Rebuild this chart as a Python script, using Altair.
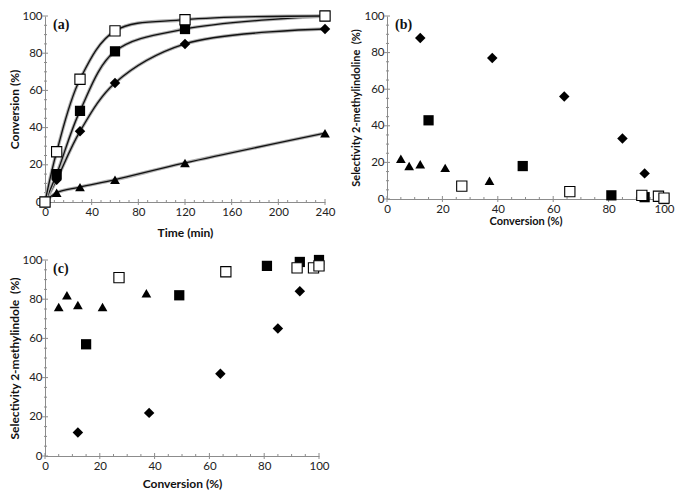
import altair as alt
import pandas as pd

# ---------------- data ----------------
time_min = [0, 10, 30, 60, 120, 240]
conv_open = [0, 27, 66, 92, 98, 100]
conv_filled = [0, 15, 49, 81, 93, 100]
conv_diamond = [0, 12, 38, 64, 85, 93]
conv_triangle = [0, 5, 8, 12, 21, 37]

# selectivity 2-methylindoline (panel b), at conversions of t = 10..240 min
sel_b_open = [7, 4, 2, 1.5, 0.5]
sel_b_filled = [43, 18, 2, 1, 0]
sel_b_diamond = [88, 77, 56, 33, 14]
sel_b_triangle = [22, 18, 19, 17, 10]

# selectivity 2-methylindole (panel c)
sel_c_open = [91, 94, 96, 96, 97]
sel_c_filled = [57, 82, 97, 99, 100]
sel_c_diamond = [12, 22, 42, 65, 84]
sel_c_triangle = [76, 82, 77, 76, 83]

time_major = [0, 40, 80, 120, 160, 200, 240]
time_minor = [v for v in range(0, 241, 8) if v % 40]
pct_major = [0, 20, 40, 60, 80, 100]
pct_minor = [v for v in range(0, 101, 5) if v % 20]

FONT = "Lato"
AXIS_COLOR = "#8c8c8c"

STYLES = {
    "triangle": dict(shape="triangle-up", filled=True, color="black", size=95),
    "diamond": dict(shape="diamond", filled=True, color="black", size=110),
    "filled": dict(shape="square", filled=True, color="black", size=105),
    "open": dict(shape="square", filled=True, fill="white", stroke="black",
                 strokeWidth=1.1, size=105),
}


def axis(title, values, title_padding, title_size, label_padding):
    return alt.Axis(
        title=title, values=values, ticks=False, grid=False,
        domainColor=AXIS_COLOR, domainWidth=1, labelOverlap=False,
        labelFlush=False,
        labelFont=FONT, labelFontSize=11.5, labelColor="#222",
        labelPadding=label_padding, titleFont=FONT, titleFontSize=title_size,
        titleFontWeight="bold", titleColor="#111", titlePadding=title_padding,
    )


def panel(label, series, xdom, xtitle, ytitle, xmaj, xmin, ymaj, ymin,
          w, h, lines=False, order=("triangle", "diamond", "filled", "open"),
          xtp=4, ytp=0, tsize=12):
    xs = alt.Scale(domain=xdom, nice=False)
    ys = alt.Scale(domain=[0, 100], nice=False)
    xax = axis(xtitle, xmaj, xtp, tsize, 4)
    yax = axis(ytitle, ymaj, ytp, tsize, 3)
    layers = []
    # ticks (major crossing the axis, minor short)
    layers.append(alt.Chart(pd.DataFrame({"v": xmaj})).mark_rule(
        color=AXIS_COLOR, strokeWidth=1).encode(
        x=alt.X("v:Q", scale=xs, axis=xax), y=alt.value(h - 3), y2=alt.value(h + 3)))
    layers.append(alt.Chart(pd.DataFrame({"v": xmin})).mark_rule(
        color=AXIS_COLOR, strokeWidth=1).encode(
        x=alt.X("v:Q", scale=xs, axis=xax), y=alt.value(h - 2), y2=alt.value(h + 1)))
    layers.append(alt.Chart(pd.DataFrame({"v": ymaj})).mark_rule(
        color=AXIS_COLOR, strokeWidth=1).encode(
        y=alt.Y("v:Q", scale=ys, axis=yax), x=alt.value(-3), x2=alt.value(3)))
    layers.append(alt.Chart(pd.DataFrame({"v": ymin})).mark_rule(
        color=AXIS_COLOR, strokeWidth=1).encode(
        y=alt.Y("v:Q", scale=ys, axis=yax), x=alt.value(-1), x2=alt.value(2)))
    if lines:
        for name in order:
            df = series[name]
            base = alt.Chart(df).encode(
                x=alt.X("x:Q", scale=xs, axis=xax),
                y=alt.Y("y:Q", scale=ys, axis=yax))
            layers.append(base.mark_line(color="#b0b0b0", strokeWidth=3.4,
                                         interpolate="catmull-rom"))
            layers.append(base.mark_line(color="#111", strokeWidth=1.3,
                                         interpolate="catmull-rom"))
    for name in order:
        df = series[name]
        layers.append(alt.Chart(df).mark_point(opacity=1, **STYLES[name]).encode(
            x=alt.X("x:Q", scale=xs, axis=xax), y=alt.Y("y:Q", scale=ys, axis=yax)))
    layers.append(alt.Chart(pd.DataFrame({"t": [label]})).mark_text(
        font="Liberation Serif", fontWeight="bold", fontSize=14, align="left",
        baseline="middle", color="#111").encode(
        text="t:N", x=alt.value(8), y=alt.value(9)))
    return alt.layer(*layers).properties(width=w, height=h)


def frame(xv, yv):
    return pd.DataFrame({"x": xv, "y": yv})


series_a = {
    "triangle": frame(time_min, conv_triangle),
    "diamond": frame(time_min, conv_diamond),
    "filled": frame(time_min, conv_filled),
    "open": frame(time_min, conv_open),
}
series_b = {
    "triangle": frame(conv_triangle[1:], sel_b_triangle),
    "diamond": frame(conv_diamond[1:], sel_b_diamond),
    "filled": frame(conv_filled[1:], sel_b_filled),
    "open": frame(conv_open[1:], sel_b_open),
}
series_c = {
    "triangle": frame(conv_triangle[1:], sel_c_triangle),
    "diamond": frame(conv_diamond[1:], sel_c_diamond),
    "filled": frame(conv_filled[1:], sel_c_filled),
    "open": frame(conv_open[1:], sel_c_open),
}

pa = panel("(a)", series_a, [0, 240], "Time (min)", "Conversion (%)",
           time_major, time_minor, pct_major, pct_minor, 280, 186, lines=True,
           xtp=10, ytp=0, tsize=12)
pb = panel("(b)", series_b, [0, 100], "Conversion (%)",
           "Selectivity 2-methylindoline \u00a0(%)",
           pct_major, pct_minor, pct_major, pct_minor, 277, 183,
           xtp=1, ytp=2, tsize=11)
pc = panel("(c)", series_c, [0, 100], "Conversion (%)",
           "Selectivity 2-methylindole \u00a0(%)",
           pct_major, pct_minor, pct_major, pct_minor, 274, 196, xtp=7, ytp=0,
           tsize=12)

top = alt.hconcat(pa, pb, spacing=14)
chart = alt.vconcat(top, pc, spacing=15).properties(
    padding={"left": 0, "top": 0, "right": 0, "bottom": 0}
).configure_view(stroke=None)

chart.save("out.html", embed_options={"renderer": "svg", "actions": False})
